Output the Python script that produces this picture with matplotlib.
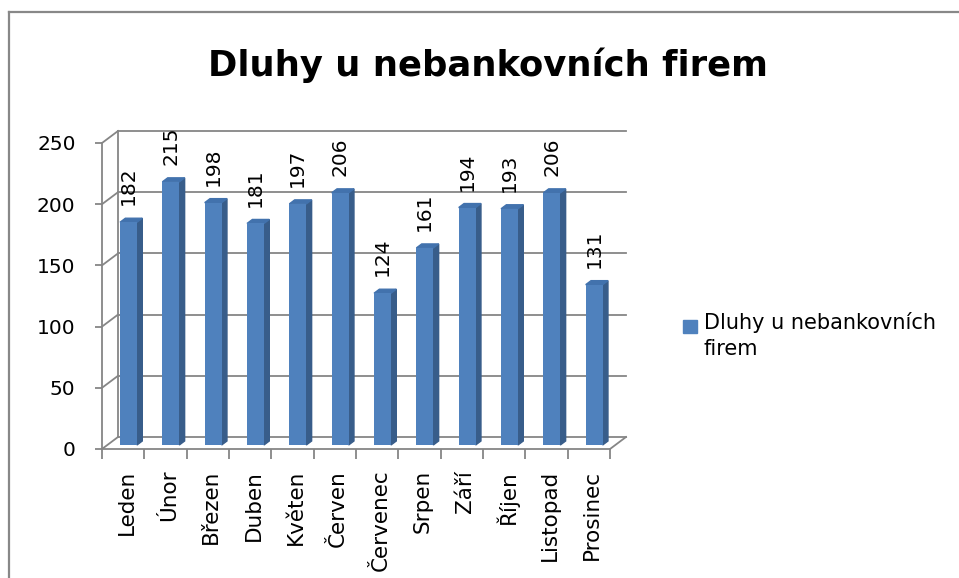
import matplotlib
matplotlib.use("Agg")
import matplotlib.pyplot as plt
from matplotlib.patches import Polygon, Rectangle
from matplotlib.lines import Line2D
import numpy as np

# data
months = ["Leden", "Únor", "Březen", "Duben", "Květen", "Červen",
          "Červenec", "Srpen", "Září", "Říjen", "Listopad", "Prosinec"]
debts = [182, 215, 198, 181, 197, 206, 124, 161, 194, 193, 206, 131]
y_ticks = [0, 50, 100, 150, 200, 250]
series_name = "Dluhy u nebankovních firem"
legend_text = "Dluhy u nebankovních\nfirem"

# colours
FRONT = "#4f81bd"
SIDE = "#385d8a"
TOP = "#4272ad"
GRID = "#868686"

FONT = "DejaVu Sans"
plt.rcParams["font.family"] = [FONT]

W, H = 959, 578
fig = plt.figure(figsize=(W / 100, H / 100), dpi=100)

# axes box = front plane of the 3d plot (pixel layout)
x0, x1, ytop, ybot = 102, 610, 143, 449
ax = fig.add_axes([x0 / W, 1 - ybot / H, (x1 - x0) / W, (ybot - ytop) / H])
ax.set_facecolor("none")
ax.set_xlim(-0.5, len(months) - 0.5)
ax.set_ylim(0, 250)

# depth of the fake 3d box, in data units (16px right, 12px up)
DX = 16 / ((x1 - x0) / len(months))
DY = 12 / ((ybot - ytop) / 250)
BW = 0.4

xs = np.arange(len(months))
xl, xr = -0.5, len(months) - 0.5

# back wall gridlines and left wall diagonals
for g in y_ticks:
    ax.add_line(Line2D([xl + DX, xr + DX], [g + DY, g + DY], color=GRID,
                       lw=1.3, clip_on=False, zorder=1))
    ax.add_line(Line2D([xl, xl + DX], [g, g + DY], color=GRID,
                       lw=1.3, clip_on=False, zorder=1))
ax.add_line(Line2D([xl + DX, xl + DX], [DY, 250 + DY], color=GRID,
                   lw=1.3, clip_on=False, zorder=1))
ax.add_line(Line2D([xr, xr + DX], [0, DY], color=GRID,
                   lw=1.3, clip_on=False, zorder=1))

# columns: front face, side face, top face
ox, oy = DX / 3, DY / 3
ax.bar(xs + ox, debts, width=BW, bottom=oy, color=FRONT, zorder=3)
for x, v in zip(xs, debts):
    left, right = x + ox - BW / 2, x + ox + BW / 2
    top = v + oy
    ax.add_patch(Polygon([(right, oy), (right + ox, oy * 2),
                          (right + ox, top + oy), (right, top)],
                         closed=True, color=SIDE, zorder=2))
    ax.add_patch(Polygon([(left, top), (right, top),
                          (right + ox, top + oy), (left + ox, top + oy)],
                         closed=True, color=TOP, zorder=2))
    ax.text(x + 0.12, v + 17, str(v), rotation=90, ha="center", va="bottom",
            fontsize=14.5, color="black", zorder=4)

# axes styling
for s in ["top", "right"]:
    ax.spines[s].set_visible(False)
for s in ["left", "bottom"]:
    ax.spines[s].set_color(GRID)
    ax.spines[s].set_linewidth(1.3)

ax.set_yticks(y_ticks)
ax.tick_params(axis="y", length=5, width=1.3, color=GRID, pad=14,
               labelsize=14.5, labelcolor="black")

ax.set_xticks(xs + 0.08)
ax.set_xticklabels(months, rotation=90, va="top", ha="center")
ax.tick_params(axis="x", which="major", length=0, pad=15,
               labelsize=15.5, labelcolor="black")
ax.set_xticks(np.arange(len(months) + 1) - 0.5, minor=True)
ax.tick_params(axis="x", which="minor", length=7, width=1.3, color=GRID)

# title
fig.text(488 / W, 1 - 65 / H, series_name, ha="center", va="center",
         fontsize=25.5, fontweight="bold", color="black")

# legend
fig.patches.append(Rectangle((683 / W, 1 - 333 / H), 14 / W, 13 / H,
                             transform=fig.transFigure, color=FRONT))
fig.text(704 / W, 1 - 312 / H, legend_text, ha="left", va="top",
         fontsize=15, color="black", linespacing=1.35)

# chart border
fig.add_artist(Line2D([9 / W, 9 / W], [0, 1 - 12 / H], color="#888888",
                      lw=1.6, transform=fig.transFigure))
fig.add_artist(Line2D([9 / W, 1], [1 - 12 / H, 1 - 12 / H], color="#888888",
                      lw=1.6, transform=fig.transFigure))

fig.savefig("out.png", dpi=100, facecolor="white")
